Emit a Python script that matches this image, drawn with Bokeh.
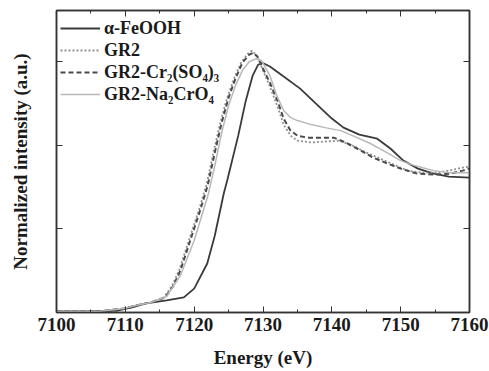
from bokeh.plotting import figure
from bokeh.models import LinearAxis, Range1d, FixedTicker, CustomJSTickFormatter, Legend, LegendItem
from bokeh.embed import file_html
from bokeh.resources import INLINE

# ---- data ----
feooh_x = [7100, 7105, 7109, 7111, 7113, 7116, 7118.5, 7120, 7121.9, 7123, 7124.3, 7124.8, 7126.4,
           7127.5, 7128.5, 7129.3, 7129.9, 7131, 7133, 7135.4, 7138, 7140, 7141.7, 7144, 7146.6,
           7148.5, 7150.4, 7152.5, 7154.8, 7157, 7160]
feooh_y = [0.006, 0.006, 0.012, 0.030, 0.054, 0.072, 0.090, 0.143, 0.293, 0.460, 0.711, 0.789, 1.057,
           1.266, 1.416, 1.481, 1.493, 1.470, 1.410, 1.338, 1.237, 1.159, 1.105, 1.063, 1.039,
           0.980, 0.908, 0.860, 0.830, 0.812, 0.806]

gr2_x = [7100, 7106, 7109.8, 7111.5, 7113.7, 7115.6, 7116.8, 7117.8, 7119.8, 7120.8, 7121.8, 7122.8,
         7123.8, 7124.8, 7125.8, 7126.8, 7127.8, 7128.4, 7129.2, 7130, 7131, 7132, 7133, 7134, 7135,
         7137, 7139, 7141, 7143, 7145, 7147, 7149, 7151, 7153, 7155, 7157, 7159, 7160]
gr2_y = [0.006, 0.006, 0.024, 0.042, 0.060, 0.090, 0.161, 0.251, 0.502, 0.627, 0.765, 0.956,
         1.135, 1.284, 1.398, 1.493, 1.547, 1.565, 1.529, 1.446, 1.350, 1.243, 1.123, 1.057, 1.027,
         1.016, 1.022, 1.027, 0.998, 0.956, 0.920, 0.884, 0.848, 0.836, 0.836, 0.848, 0.866, 0.872]

cr_x = [7100, 7106, 7109.8, 7111.5, 7113.7, 7115.8, 7117, 7118, 7120, 7121, 7122, 7123, 7124, 7125,
        7126, 7127, 7128, 7128.6, 7129.2, 7130, 7131, 7132.1, 7133, 7134, 7135, 7136.5, 7138, 7140.3,
        7142, 7144.2, 7146, 7148.1, 7150, 7152.4, 7155, 7157.2, 7159, 7160]
cr_y = [0.006, 0.006, 0.024, 0.042, 0.060, 0.090, 0.161, 0.251, 0.502, 0.627, 0.765, 0.956, 1.135, 1.284,
        1.398, 1.493, 1.541, 1.553, 1.529, 1.458, 1.374, 1.266, 1.159, 1.087, 1.057, 1.045, 1.045, 1.045,
        1.016, 0.968, 0.926, 0.890, 0.860, 0.830, 0.824, 0.830, 0.848, 0.860]

na_x = [7100, 7106, 7109.8, 7111.5, 7113.7, 7116, 7118, 7120, 7122, 7123, 7124, 7125, 7126, 7127, 7128,
        7129, 7129.8, 7131, 7132, 7133, 7134, 7135, 7137, 7139, 7141.3, 7143, 7145.6, 7148, 7150, 7152,
        7154.8, 7157, 7160]
na_y = [0.006, 0.006, 0.024, 0.042, 0.060, 0.096, 0.221, 0.430, 0.699, 0.878, 1.075, 1.237, 1.356, 1.446,
        1.499, 1.517, 1.505, 1.416, 1.296, 1.207, 1.165, 1.147, 1.123, 1.105, 1.087, 1.057, 1.010, 0.956,
        0.908, 0.878, 0.848, 0.836, 0.836]

labels = ["\u03b1-FeOOH", "GR2", "GR2-Cr\u2082(SO\u2084)\u2083", "GR2-Na\u2082CrO\u2084"]
x_ticks = [7100, 7110, 7120, 7130, 7140, 7150, 7160]
x_minor = [7105, 7115, 7125, 7135, 7145, 7155]
y_ticks = [0, 0.5, 1.0, 1.5]

FONT = "Liberation Serif"
TXT = "#1a1a1a"

p = figure(width=489, height=371, output_backend="svg", toolbar_location=None,
           x_range=Range1d(7100, 7160), y_range=Range1d(0, 1.805),
           min_border_left=56, min_border_right=20, min_border_top=10, min_border_bottom=59)
p.background_fill_color = "white"
p.border_fill_color = "white"
p.grid.visible = False
p.outline_line_color = "#333333"
p.outline_line_width = 1.5

r1 = p.line(feooh_x, feooh_y, line_color="#3a3a3a", line_width=1.8)
r2 = p.line(gr2_x, gr2_y, line_color="#909090", line_width=1.8, line_dash="2 2")
r3 = p.line(cr_x, cr_y, line_color="#4a4a4a", line_width=2.0, line_dash="5 3")
r4 = p.line(na_x, na_y, line_color="#b8b8b8", line_width=1.5)

blank = CustomJSTickFormatter(code="return ''")

def style_axis(ax, show_labels):
    ax.axis_line_color = "#333333"
    ax.axis_line_width = 1.5
    ax.major_tick_in = 6
    ax.major_tick_out = 0
    ax.minor_tick_in = 3
    ax.minor_tick_out = 0
    ax.major_tick_line_color = "#333333"
    ax.minor_tick_line_color = "#333333"
    if show_labels:
        ax.major_label_text_font = FONT
        ax.major_label_text_font_style = "bold"
        ax.major_label_text_font_size = "19px"
        ax.major_label_text_color = TXT
    else:
        ax.formatter = blank
        ax.major_label_standoff = 0
        ax.major_label_text_font_size = "1px"

xa = p.xaxis[0]
xa.ticker = FixedTicker(ticks=x_ticks, minor_ticks=x_minor)
style_axis(xa, True)
xa.major_label_standoff = 5
xa.axis_label = "Energy (eV)"
xa.axis_label_text_font = FONT
xa.axis_label_text_font_style = "bold"
xa.axis_label_text_font_size = "19px"
xa.axis_label_text_color = TXT
xa.axis_label_standoff = 13

ya = p.yaxis[0]
ya.ticker = FixedTicker(ticks=y_ticks, minor_ticks=[])
style_axis(ya, False)
ya.axis_label = "Normalized intensity (a.u.)"
ya.axis_label_text_font = FONT
ya.axis_label_text_font_style = "bold"
ya.axis_label_text_font_size = "19px"
ya.axis_label_text_color = TXT
ya.axis_label_standoff = 26

top = LinearAxis(ticker=FixedTicker(ticks=x_ticks, minor_ticks=x_minor))
style_axis(top, False)
p.add_layout(top, "above")
right = LinearAxis(ticker=FixedTicker(ticks=y_ticks, minor_ticks=[]))
style_axis(right, False)
p.add_layout(right, "right")

legend = Legend(items=[LegendItem(label=labels[0], renderers=[r1]),
                       LegendItem(label=labels[1], renderers=[r2]),
                       LegendItem(label=labels[2], renderers=[r3]),
                       LegendItem(label=labels[3], renderers=[r4])],
                location=(4, 207))
legend.border_line_color = None
legend.background_fill_alpha = 0
legend.margin = 0
legend.padding = 6
legend.spacing = 0
legend.glyph_width = 40
legend.glyph_height = 22
legend.label_height = 22
legend.label_standoff = 4
legend.label_text_font = FONT
legend.label_text_font_style = "bold"
legend.label_text_font_size = "18px"
legend.label_text_color = TXT
p.add_layout(legend)

open("out.html", "w").write(file_html(p, INLINE))
